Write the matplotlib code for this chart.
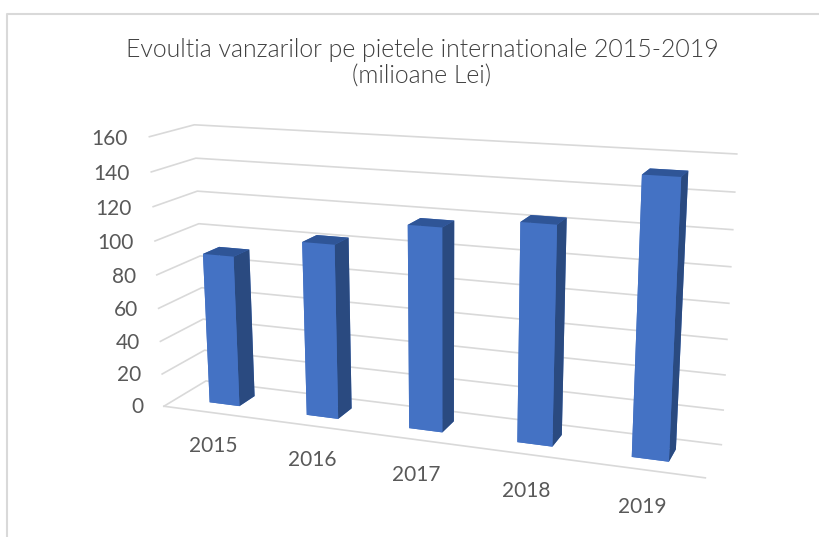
import numpy as np
import matplotlib
matplotlib.use('Agg')
import matplotlib.pyplot as plt
from matplotlib.lines import Line2D
from mpl_toolkits.mplot3d import proj3d

plt.rcParams['font.family'] = ['Lato', 'DejaVu Sans']

# chart data
years = ['2015', '2016', '2017', '2018', '2019']
sales = [90.7, 102.7, 117.2, 123.4, 152.5]
value_ticks = [0, 20, 40, 60, 80, 100, 120, 140, 160]
title_lines = ['Evoultia vanzarilor pe pietele internationale 2015-2019', '(milioane Lei)']

W, H = 820, 537
AX_SIDE = 800.0

fig = plt.figure(figsize=(W / 100, H / 100), dpi=100)
fig.patch.set_facecolor('white')
ax = fig.add_axes([20.45 / W, -162.32 / H, AX_SIDE / W, AX_SIDE / H], projection='3d')
ax.set_axis_off()
ax.set_xticks([])
ax.set_yticks([])
ax.set_zticks([])
ax.computed_zorder = False

# camera fitted to the reference
ax.set_xlim(0, len(years), view_margin=0)
ax.set_ylim(0, 1, view_margin=0)
ax.set_zlim(0, value_ticks[-1], view_margin=0)
ax.view_init(elev=14.73, azim=-69.439, roll=0.149)
ax.set_proj_type('persp', focal_length=0.3248)
ax.set_box_aspect((1.0, 0.1572, 0.5019), zoom=0.7896)

# gridlines on the side wall and back wall, plus the front floor edge
grid_color = '#D9D9D9'
for v in value_ticks:
    ax.plot([0, 0, len(years)], [0, 1, 1], [v, v, v], color=grid_color, lw=1.2,
            clip_on=False, zorder=1)
ax.plot([0, len(years)], [0, 0], [0, 0], color=grid_color, lw=1.2, clip_on=False, zorder=1)

# bars, face order is -Z, +Z, -Y, +Y, -X, +X
bar_w = 2 * 0.1563
bar_front = 0.31
bar_depth = 0.3836
x = np.arange(len(years)) + 0.5 - bar_w / 2
faces = ['#4472C4', '#2F5597', '#4472C4', '#4472C4', '#4472C4', '#2A4A80'] * len(years)
ax.bar3d(x, [bar_front] * len(years), [0] * len(years),
         [bar_w] * len(years), [bar_depth] * len(years), sales,
         color=faces, shade=False, linewidth=0, zorder=2)


# tick labels stay horizontal, so project the anchor and write plain 2D text
def label(px, py, pz, s, ha):
    xp, yp, _ = proj3d.proj_transform(px, py, pz, ax.get_proj())
    ax.text2D(xp, yp, s, transform=ax.transData, ha=ha, va='center',
              fontsize=15, color='#595959')


for v in value_ticks:
    label(-0.22, 0, v - 2.2, str(v), 'right')
for i, year in enumerate(years):
    label(i + 0.5, 0, -21, year, 'center')

# title
fig.text(422 / W, 1 - 50 / H, title_lines[0], ha='center', va='center',
         fontsize=17.9, fontweight=300, color='#404040')
fig.text(422 / W, 1 - 77 / H, title_lines[1], ha='center', va='center',
         fontsize=17.9, fontweight=300, color='#404040')

# chart frame, only left and top show in the crop
fig.add_artist(Line2D([7.5 / W, 7.5 / W, 1], [0, 1 - 13.5 / H, 1 - 13.5 / H],
                      color=grid_color, lw=1.5))

fig.savefig('out.png', dpi=100)
